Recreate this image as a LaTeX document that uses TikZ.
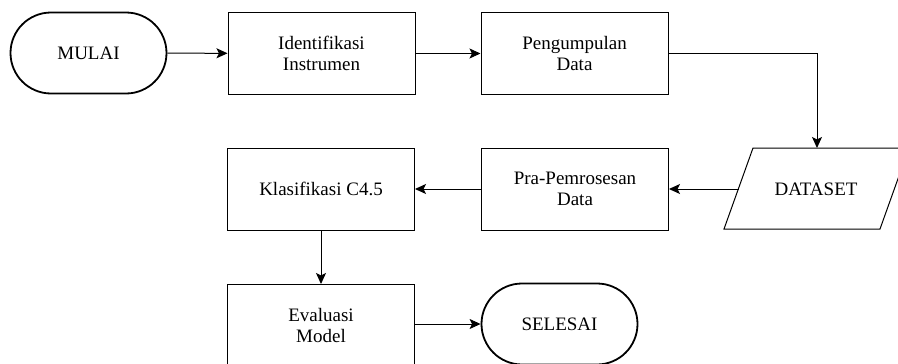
\documentclass[tikz,border=0pt]{standalone}
\usepackage{fontspec}
\setmainfont{Liberation Serif}
\usetikzlibrary{arrows.meta,shapes.misc}
\begin{document}
\begin{tikzpicture}[x=1pt,y=-1pt,
  every node/.style={font=\fontsize{19}{21}\selectfont, align=center, inner sep=0pt},
  procbox/.style={draw, line width=1pt, rectangle, minimum width=187pt, minimum height=82pt},
  termbox/.style={draw, line width=1.8pt, rounded rectangle, minimum width=156pt, minimum height=81pt},
  conn/.style={line width=1pt, -{Stealth[length=11pt,width=10pt,inset=2.5pt]}}
]
\useasboundingbox (0,0) rectangle (898,364);
\node[termbox] (mulai) at (88.5,53) {MULAI};
\node[procbox] (ident) at (321.5,53.5) {Identifikasi\\Instrumen};
\node[procbox] (peng) at (574.5,53.5) {Pengumpulan\\Data};
\node[procbox] (pra) at (575,189) {Pra-Pemrosesan\\Data};
\node[procbox] (klas) at (321,189) {Klasifikasi C4.5};
\node[procbox] (eval) at (321,325.5) {Evaluasi\\Model};
\node[termbox] (selesai) at (559.5,324) {SELESAI};
% DATASET parallelogram
\coordinate (dbl) at (724,229);
\coordinate (dbr) at (880,229);
\coordinate (dtr) at (909,148);
\coordinate (dtl) at (753,148);
\draw[line width=1pt] (dbl) -- (dbr) -- (dtr) -- (dtl) -- cycle;
\node (data) at (816,189) {DATASET};
\coordinate (dleft) at (738.5,189);
\coordinate (dtop) at (817,148);
\coordinate (bend) at (817,53.5);
% connectors
\draw[conn] (mulai) -- (ident);
\draw[conn] (ident) -- (peng);
\draw[conn] (peng.east) -- (bend) -- (dtop);
\draw[conn] (dleft) -- (pra.east);
\draw[conn] (pra) -- (klas);
\draw[conn] (klas) -- (eval);
\draw[conn] (eval.east |- selesai) -- (selesai);
\end{tikzpicture}
\end{document}
